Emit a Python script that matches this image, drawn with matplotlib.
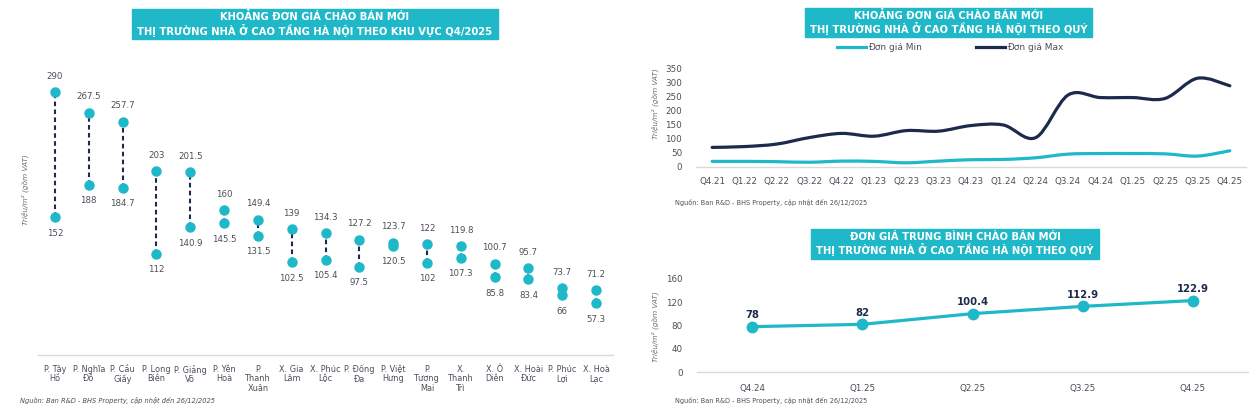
import numpy as np
import matplotlib.pyplot as plt
from matplotlib.path import Path
from matplotlib.patches import PathPatch

plt.rcParams['font.family'] = ['DejaVu Sans']

TEAL = '#1fb8c8'
NAVY = '#1c2b4b'
GRAY = '#4d4d5a'
SOURCE = 'Nguồn: Ban R&D - BHS Property, cập nhật đến 26/12/2025'
YLABEL = 'Triệu/m² (gồm VAT)'

# left chart: price range by area, Q4/2025
areas = ['P. Tây\nHồ', 'P. Nghĩa\nĐô', 'P. Cầu\nGiấy', 'P. Long\nBiên', 'P. Giảng\nVõ',
         'P. Yên\nHoà', 'P.\nThanh\nXuân', 'X. Gia\nLâm', 'X. Phúc\nLộc', 'P. Đống\nĐa',
         'P. Việt\nHưng', 'P.\nTương\nMai', 'X.\nThanh\nTrì', 'X. Ô\nDiên', 'X. Hoài\nĐức',
         'P. Phúc\nLợi', 'X. Hoà\nLạc']
area_max = [290, 267.5, 257.7, 203, 201.5, 160, 149.4, 139, 134.3, 127.2, 123.7, 122,
            119.8, 100.7, 95.7, 73.7, 71.2]
area_min = [152, 188, 184.7, 112, 140.9, 145.5, 131.5, 102.5, 105.4, 97.5, 120.5, 102,
            107.3, 85.8, 83.4, 66, 57.3]

# top right: min / max by quarter
quarters = ['Q4.21', 'Q1.22', 'Q2.22', 'Q3.22', 'Q4.22', 'Q1.23', 'Q2.23', 'Q3.23', 'Q4.23',
            'Q1.24', 'Q2.24', 'Q3.24', 'Q4.24', 'Q1.25', 'Q2.25', 'Q3.25', 'Q4.25']
q_max = [70, 73, 82, 105, 120, 110, 130, 128, 148, 150, 105, 257, 248, 248, 245, 317, 290]
q_min = [20, 20, 19, 17, 21, 20, 15, 21, 26, 27, 33, 46, 48, 48, 47, 39, 58]

# bottom right: average price
avg_quarters = ['Q4.24', 'Q1.25', 'Q2.25', 'Q3.25', 'Q4.25']
avg_price = [78, 82, 100.4, 112.9, 122.9]

W, H = 1260, 416
fig = plt.figure(figsize=(W / 100, H / 100), dpi=100)


def px_axes(x0, y0, x1, y1):
    return fig.add_axes([x0 / W, 1 - y1 / H, (x1 - x0) / W, (y1 - y0) / H])


def title_box(x0, y0, x1, y1, text):
    fig.patches.append(plt.Rectangle((x0 / W, 1 - y1 / H), (x1 - x0) / W, (y1 - y0) / H,
                                     transform=fig.transFigure, color=TEAL, zorder=0))
    fig.text((x0 + x1) / 2 / W, 1 - (y0 + y1) / 2 / H, text, ha='center', va='center',
             color='white', fontsize=7.2, fontweight='bold', linespacing=1.15)


def clean(ax):
    for s in ['top', 'right', 'left']:
        ax.spines[s].set_visible(False)
    ax.spines['bottom'].set_color('#d9d9d9')
    ax.spines['bottom'].set_linewidth(1)


def smooth_line(ax, y, color, lw):
    # excel-like smoothed line: bezier segments through the data points
    x = np.arange(len(y), dtype=float)
    y = np.asarray(y, dtype=float)
    verts = [(x[0], y[0])]
    codes = [Path.MOVETO]
    n = len(y)
    for i in range(n - 1):
        p0 = max(i - 1, 0)
        p3 = min(i + 2, n - 1)
        c1 = (x[i] + (x[i + 1] - x[p0]) / 6, y[i] + (y[i + 1] - y[p0]) / 6)
        c2 = (x[i + 1] - (x[p3] - x[i]) / 6, y[i + 1] - (y[p3] - y[i]) / 6)
        verts += [c1, c2, (x[i + 1], y[i + 1])]
        codes += [Path.CURVE4] * 3
    ax.add_patch(PathPatch(Path(verts, codes), fill=False, edgecolor=color, lw=lw,
                           capstyle='round', joinstyle='round'))


# ---- left: dumbbell chart
ax1 = px_axes(38, 60, 613, 355)
clean(ax1)
xs = np.arange(len(areas))
ax1.vlines(xs, area_min, area_max, colors=NAVY, linestyles=(0, (2.2, 1.6)), lw=1.5, zorder=1)
ax1.plot(xs, area_max, 'o', color=TEAL, ms=6.5, zorder=3)
ax1.plot(xs, area_min, 'o', color=TEAL, ms=6.5, zorder=3)
for i in xs:
    ax1.annotate(f'{area_max[i]:g}', (i, area_max[i]), xytext=(0, 11.5), textcoords='offset points',
                 ha='center', va='center', fontsize=6.2, color=GRAY)
    ax1.annotate(f'{area_min[i]:g}', (i, area_min[i]), xytext=(0, -11.5), textcoords='offset points',
                 ha='center', va='center', fontsize=6.2, color=GRAY)
ax1.set_xlim(-0.5, len(areas) - 0.5)
ax1.set_ylim(0, 325.6)
ax1.set_yticks([])
ax1.set_xticks(xs)
ax1.set_xticklabels(areas, fontsize=5.9, color=GRAY, linespacing=1.1)
ax1.tick_params(axis='x', length=0, pad=7)
fig.text(25 / W, 1 - 190 / H, YLABEL, rotation=90, ha='center', va='center',
         fontsize=5.3, style='italic', color='#6b6b78')
fig.text(20 / W, 1 - 400 / H, SOURCE, ha='left', va='center', fontsize=4.8,
         style='italic', color='#4d4d5a')
title_box(132, 9, 498, 39, 'KHOẢNG ĐƠN GIÁ CHÀO BÁN MỚI\nTHỊ TRƯỜNG NHÀ Ở CAO TẦNG HÀ NỘI THEO KHU VỰC Q4/2025')

# ---- top right: min / max lines
ax2 = px_axes(696, 69, 1246, 167)
clean(ax2)
smooth_line(ax2, q_min, TEAL, 2.3)
smooth_line(ax2, q_max, NAVY, 2.3)
ax2.set_xlim(-0.5, len(quarters) - 0.5)
ax2.set_ylim(0, 350)
ax2.set_yticks(range(0, 351, 50))
ax2.set_xticks(range(len(quarters)))
ax2.set_xticklabels(quarters)
ax2.tick_params(length=0, labelsize=6.3, labelcolor=GRAY)
ax2.tick_params(axis='y', pad=10)
ax2.tick_params(axis='x', pad=7)
h1, = ax2.plot([], [], color=TEAL, lw=2.3, label='Đơn giá Min')
h2, = ax2.plot([], [], color=NAVY, lw=2.3, label='Đơn giá Max')
fig.legend(handles=[h1, h2], loc='center', bbox_to_anchor=(950 / W, 1 - 48 / H),
           ncol=2, frameon=False, fontsize=6.5, handlelength=3.2, handletextpad=0.2,
           columnspacing=6, labelcolor=GRAY)
fig.text(655 / W, 1 - 104 / H, YLABEL, rotation=90, ha='center', va='center',
         fontsize=5.3, style='italic', color='#6b6b78')
fig.text(675 / W, 1 - 203 / H, SOURCE, ha='left', va='center', fontsize=4.7, color='#4d4d5a')
title_box(805, 8, 1092, 37, 'KHOẢNG ĐƠN GIÁ CHÀO BÁN MỚI\nTHỊ TRƯỜNG NHÀ Ở CAO TẦNG HÀ NỘI THEO QUÝ')

# ---- bottom right: average price
ax3 = px_axes(697, 279, 1248, 372)
clean(ax3)
xa = np.arange(len(avg_quarters))
ax3.plot(xa, avg_price, '-o', color=TEAL, lw=2.3, ms=7.5, clip_on=False)
for i in xa:
    ax3.annotate(f'{avg_price[i]:g}', (i, avg_price[i]), xytext=(0, 8.5), textcoords='offset points',
                 ha='center', va='center', fontsize=7.3, fontweight='bold', color=NAVY)
ax3.set_xlim(-0.5, len(avg_quarters) - 0.5)
ax3.set_ylim(0, 160)
ax3.set_yticks(range(0, 161, 40))
ax3.set_xticks(xa)
ax3.set_xticklabels(avg_quarters)
ax3.tick_params(length=0, labelsize=6.3, labelcolor=GRAY)
ax3.tick_params(axis='y', pad=10)
ax3.tick_params(axis='x', pad=9)
fig.text(655 / W, 1 - 327 / H, YLABEL, rotation=90, ha='center', va='center',
         fontsize=5.3, style='italic', color='#6b6b78')
fig.text(675 / W, 1 - 400 / H, SOURCE, ha='left', va='center', fontsize=4.7, color='#4d4d5a')
title_box(811, 229, 1099, 259, 'ĐƠN GIÁ TRUNG BÌNH CHÀO BÁN MỚI\nTHỊ TRƯỜNG NHÀ Ở CAO TẦNG HÀ NỘI THEO QUÝ')

fig.savefig('out.png', dpi=100)
